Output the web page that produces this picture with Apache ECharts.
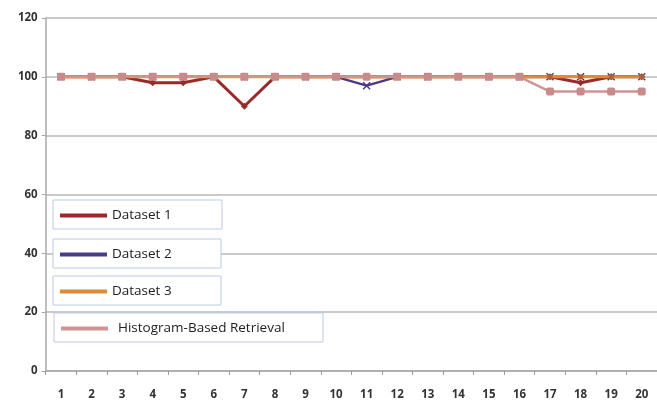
<!DOCTYPE html>
<html>
<head>
<meta charset="utf-8">
<style>
  html, body { margin: 0; padding: 0; background: #fff; }
  #chart { width: 657px; height: 401px; }
</style>
<script src="https://cdn.jsdelivr.net/npm/echarts@6/dist/echarts.min.js"></script>
</head>
<body>
<div id="chart"></div>
<script>
// Categories along the x axis (query index)
const categories = ['1','2','3','4','5','6','7','8','9','10','11','12','13','14','15','16','17','18','19','20'];

// Series values (precision, %)
const dataset1 = [100,100,100,98,98,100,90,100,100,100,100,100,100,100,100,100,100,98,100,100];
const dataset2 = [100,100,100,100,100,100,100,100,100,100,97,100,100,100,100,100,100,100,100,100];
const dataset3 = [100,100,100,100,100,100,100,100,100,100,100,100,100,100,100,100,100,100,100,100];
const histogram = [100,100,100,100,100,100,100,100,100,100,100,100,100,100,100,100,95,95,95,95];

// Y axis ticks
const yMin = 0, yMax = 120, yStep = 20;

const names = ['Dataset 1', 'Dataset 2', 'Dataset 3', 'Histogram-Based Retrieval'];
const colors = ['#9a2a2a', '#4a3a88', '#e08a34', '#cf9494'];

const font = '"Open Sans", "Liberation Sans", sans-serif';

// One boxed legend per series, stacked in the lower-left of the plot
function legendBox(i, left, top, textWidth, textIndent) {
  return {
    data: [{ name: names[i], itemStyle: { color: colors[i], borderWidth: 0 } }],
    left: left,
    top: top,
    orient: 'horizontal',
    icon: 'rect',
    itemWidth: 47,
    itemHeight: 4,
    itemGap: 0,
    backgroundColor: '#fff',
    borderColor: '#b9cbe3',
    borderWidth: 1,
    borderRadius: 0,
    padding: [8, 10, 6, 7],
    textStyle: {
      color: '#222', fontSize: 13.5, fontFamily: font,
      width: textWidth, lineHeight: 15, padding: [0, 0, 0, textIndent]
    },
    selectedMode: false
  };
}

const chart = echarts.init(document.getElementById('chart'), null, { renderer: 'canvas' });

chart.setOption({
  animation: false,
  backgroundColor: '#fff',
  grid: { left: 45.7, right: -2.4, top: 18, bottom: 30, containLabel: false },
  legend: [
    legendBox(0, 53, 200, 100, 0),
    legendBox(1, 53, 239, 99, 0),
    legendBox(2, 53, 276, 99, 0),
    legendBox(3, 54, 313, 195, 5)
  ],
  xAxis: {
    type: 'category',
    data: categories,
    boundaryGap: true,
    axisLine: { lineStyle: { color: '#a8a8a8', width: 1.5 } },
    axisTick: { show: true, length: 4, lineStyle: { color: '#999' } },
    axisLabel: { color: '#333', fontSize: 11.5, fontFamily: font, fontWeight: 'bold', margin: 18 },
    splitLine: { show: false }
  },
  yAxis: {
    type: 'value',
    min: yMin, max: yMax, interval: yStep,
    axisLine: { show: true, lineStyle: { color: '#a8a8a8', width: 1.5 } },
    axisTick: { show: true, length: 4, lineStyle: { color: '#a8a8a8' } },
    axisLabel: { color: '#333', fontSize: 11.5, fontFamily: font, fontWeight: 'bold', margin: 8 },
    splitLine: { lineStyle: { color: '#b8b8b8', width: 1.5 } }
  },
  series: [
    {
      name: names[0], type: 'line', data: dataset1, z: 2,
      color: colors[0],
      lineStyle: { width: 3, color: colors[0] },
      symbol: 'diamond', symbolSize: 7,
      itemStyle: { color: colors[0] }
    },
    {
      name: names[1], type: 'line', data: dataset2, z: 3,
      color: colors[1],
      lineStyle: { width: 2.5, color: colors[1] },
      symbol: 'path://M0,0L10,10M10,0L0,10', symbolSize: 7,
      itemStyle: { color: 'none', borderColor: colors[1], borderWidth: 1.5 }
    },
    {
      name: names[2], type: 'line', data: dataset3, z: 4,
      color: colors[2],
      lineStyle: { width: 3, color: colors[2] },
      symbol: 'rect', symbolSize: 5,
      itemStyle: { color: '#b0603a' }
    },
    {
      name: names[3], type: 'line', data: histogram, z: 5,
      color: colors[3],
      lineStyle: { width: 2.5, color: colors[3] },
      symbol: 'roundRect', symbolSize: 8,
      itemStyle: { color: '#c98a8a' }
    }
  ]
});
</script>
</body>
</html>
